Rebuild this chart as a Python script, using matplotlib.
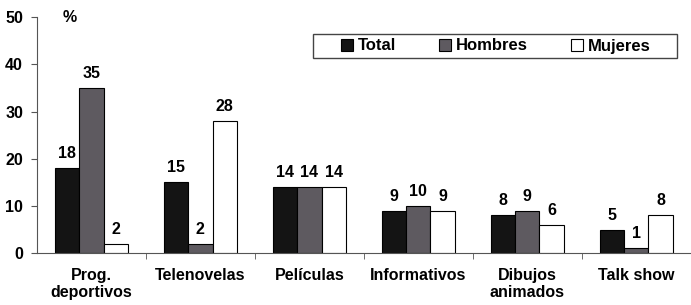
import numpy as np
import matplotlib.pyplot as plt
from matplotlib.patches import Rectangle

plt.rcParams['font.family'] = ['Liberation Sans', 'DejaVu Sans']
plt.rcParams['font.weight'] = 'bold'

categories = ["Prog.\ndeportivos", "Telenovelas", "Películas", "Informativos", "Dibujos\nanimados", "Talk show"]
series = ["Total", "Hombres", "Mujeres"]
total = [18, 15, 14, 9, 8, 5]
hombres = [35, 2, 14, 10, 9, 1]
mujeres = [2, 28, 14, 9, 6, 8]
colors = ["#141414", "#5e5a60", "white"]

fig = plt.figure(figsize=(6.91, 3.05), dpi=100)
ax = fig.add_axes([0.0535, 0.170, 0.946, 0.774])

x = np.arange(len(categories))
w = 0.224
for i, (vals, name) in enumerate(zip([total, hombres, mujeres], series)):
    pos = x + (i - 1) * w
    ax.bar(pos, vals, w, color=colors[i], edgecolor="black", linewidth=0.8, label=name)
    for p, v in zip(pos, vals):
        ax.annotate(str(v), (p, v), xytext=(0, 5), textcoords="offset points",
                    ha="center", va="bottom", fontsize=11.5, fontweight="bold")

ax.set_xlim(-0.5, len(categories) - 0.5)
ax.set_ylim(0, 50)
ax.set_yticks(range(0, 51, 10))
ax.set_xticks(x)
ax.set_xticklabels(categories, fontsize=11.5, fontweight="bold", linespacing=1.1)
ax.set_xticks(np.arange(0.5, len(categories) - 0.5, 1), minor=True)
ax.tick_params(axis="x", which="major", length=0, pad=11)
ax.tick_params(axis="x", which="minor", length=4, direction="out", color="#555555")
ax.tick_params(axis="y", length=4, direction="out", color="#555555", labelsize=11.5, pad=6)
for lab in ax.get_yticklabels():
    lab.set_fontweight("bold")

for s in ["top", "right"]:
    ax.spines[s].set_visible(False)
ax.spines["left"].set_color("#555555")
ax.spines["bottom"].set_color("#555555")

ax.text(0.05, 1.0, "%", transform=ax.transAxes, fontsize=11.5, fontweight="bold", ha="center", va="center")

# legend box
fig.patches.append(Rectangle((313 / 691, 1 - 58 / 305), 364 / 691, 24 / 305, transform=fig.transFigure,
                             facecolor="white", edgecolor="#444444", linewidth=1.0))
leg = fig.legend(loc="center", bbox_to_anchor=(496 / 691, 1 - 46 / 305), ncol=3, frameon=False,
                 handlelength=0.7, handleheight=0.7, handletextpad=0.3, fontsize=12,
                 columnspacing=2.6, borderpad=0)

fig.savefig("out.png", dpi=100)
